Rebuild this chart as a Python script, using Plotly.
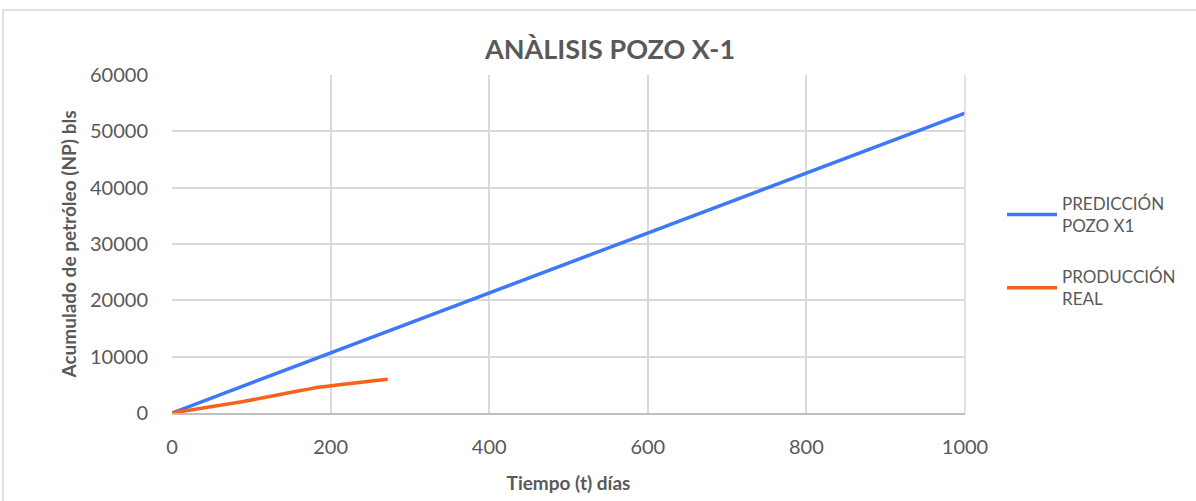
import plotly.graph_objects as go

# Series data
pred_days = [0, 1000]
pred_np = [0, 53250]

real_days = [0, 92, 187, 272]
real_np = [0, 2100, 4600, 6000]

x_ticks = [0, 200, 400, 600, 800, 1000]
y_ticks = [0, 10000, 20000, 30000, 40000, 50000, 60000]
y_tick_text = [str(v) for v in y_ticks]

W, H = 1196, 501
L, R, T, B = 172, 231, 75, 88
pw, ph = W - L - R, H - T - B

FONT = "Lato, 'Open Sans', sans-serif"
GREY = "#595959"

fig = go.Figure()
fig.add_trace(go.Scatter(
    x=pred_days, y=pred_np, mode="lines",
    name="PREDICCIÓN<br>POZO X1", legendgroup="pred",
    line=dict(color="#3d78f7", width=3.5),
))
fig.add_trace(go.Scatter(
    x=real_days, y=real_np, mode="lines",
    name="PRODUCCIÓN<br>REAL", legendgroup="real",
    line=dict(color="#f5621c", width=3.5, shape="spline", smoothing=0.35),
))

fig.update_layout(
    width=W, height=H,
    margin=dict(l=L, r=R, t=T, b=B, autoexpand=False),
    paper_bgcolor="white", plot_bgcolor="white",
    font=dict(family=FONT, color=GREY, size=20),
    title=dict(
        text="<b>ANÀLISIS POZO X-1</b>",
        x=610 / W, xanchor="center",
        y=1 - 50 / H, yanchor="middle",
        font=dict(size=27, color=GREY, family=FONT),
    ),
    showlegend=True,
    legend=dict(
        x=(1002 - L) / pw, xanchor="left",
        y=(413 - 186) / ph, yanchor="top",
        font=dict(size=17, color=GREY, family=FONT),
        itemwidth=50,
        tracegroupgap=26,
        bgcolor="rgba(0,0,0,0)",
    ),
    xaxis=dict(
        range=[0, 1000], tickvals=x_ticks, automargin=False,
        showgrid=True, gridcolor="#d9d9d9", gridwidth=1.5,
        showline=True, linecolor="#bfbfbf", linewidth=2,
        zeroline=False, ticks="", ticklabelstandoff=15,
        title=dict(text="<b>Tiempo (t) días</b>", font=dict(size=19, color=GREY), standoff=20),
    ),
    yaxis=dict(
        range=[0, 60000], tickvals=y_ticks, ticktext=y_tick_text, automargin=False,
        showgrid=True, gridcolor="#d9d9d9", gridwidth=1.5,
        zeroline=False, ticks="", ticklabelstandoff=23,
        title=dict(text="<b>Acumulado de petróleo (NP) bls</b>", font=dict(size=19, color=GREY), standoff=8),
    ),
    shapes=[
        # right-hand border of the plot area
        dict(type="line", xref="paper", yref="paper", x0=1, x1=1, y0=0, y1=1,
             line=dict(color="#d9d9d9", width=1.5)),
        # chart frame
        dict(type="rect", xref="paper", yref="paper",
             x0=(3 - L) / pw, x1=(1205 - L) / pw,
             y0=(413 - 510) / ph, y1=(413 - 10) / ph,
             line=dict(color="#d9d9d9", width=1.5), layer="below"),
    ],
)

fig.write_html("out.html")
